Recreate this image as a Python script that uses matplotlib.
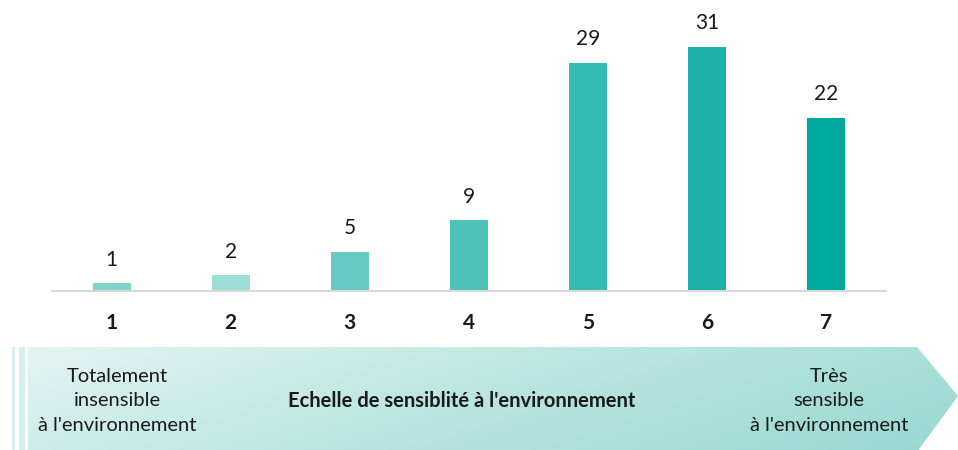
import matplotlib.pyplot as plt
import numpy as np
from matplotlib.patches import Polygon
from matplotlib.colors import LinearSegmentedColormap

plt.rcParams['font.family'] = ['Lato', 'DejaVu Sans']

categories = ['1', '2', '3', '4', '5', '6', '7']
values = [1, 2, 5, 9, 29, 31, 22]
colors = ['#80D4CC', '#9EDED8', '#66C9C3', '#4DC2BB', '#33BAB2', '#1BB1A8', '#00A99D']
left_label = 'Totalement\ninsensible\nà l\'environnement'
mid_label = 'Echelle de sensiblité à l\'environnement'
right_label = 'Très\nsensible\nà l\'environnement'

fig = plt.figure(figsize=(9.58, 4.5), dpi=100)

# background band with the arrow (pixel coordinates)
bg = fig.add_axes([0, 0, 1, 1])
bg.set_xlim(0, 958)
bg.set_ylim(450, 0)
bg.axis('off')
shape = Polygon([(28, 347), (917, 347), (958, 396), (917, 452), (28, 452)],
                closed=True, facecolor='none', edgecolor='none')
bg.add_patch(shape)
cmap = LinearSegmentedColormap.from_list('band', ['#E3F4F2', '#B9E5E0', '#98D8D1'])
gx, gy = np.meshgrid(np.linspace(0, 1, 300), np.linspace(0, 1, 60))
grad = 0.75 * gx + 0.25 * gy
im = bg.imshow(grad, cmap=cmap, extent=(28, 958, 452, 347), aspect='auto', origin='upper')
im.set_clip_path(shape)
for x0, x1 in [(12, 15), (19, 25)]:
    strip = Polygon([(x0, 347), (x1, 347), (x1, 452), (x0, 452)], closed=True,
                    facecolor='#D6EFEC', edgecolor='none')
    bg.add_patch(strip)
bg.text(117, 401, left_label, ha='center', va='center', fontsize=14.5,
        color='#1a1a1a', linespacing=1.55)
bg.text(462, 401, mid_label, ha='center', va='center', fontsize=14.5,
        fontweight='bold', color='#1a1a1a')
bg.text(829, 401, right_label, ha='center', va='center', fontsize=14.5,
        color='#1a1a1a', linespacing=1.55)

# bar chart
ax = fig.add_axes([52 / 958, 159 / 450, 834 / 958, 0.63])
x = np.arange(len(categories))
bars = ax.bar(x, values, width=0.32, color=colors)
for b, v in zip(bars, values):
    ax.text(b.get_x() + b.get_width() / 2, v + 1.7, str(v), ha='center', va='bottom',
            fontsize=15, color='#1a1a1a')
ax.set_xlim(-0.5, len(categories) - 0.5)
ax.set_ylim(0, 36)
ax.set_xticks(x)
ax.set_xticklabels(categories, fontsize=15, fontweight='bold', color='#1a1a1a')
ax.tick_params(axis='x', length=0, pad=16)
ax.set_yticks([])
for s in ['top', 'right', 'left']:
    ax.spines[s].set_visible(False)
ax.spines['bottom'].set_color('#D9D9D9')
ax.spines['bottom'].set_linewidth(1.5)
ax.patch.set_alpha(0)

fig.savefig('out.png', dpi=100)
